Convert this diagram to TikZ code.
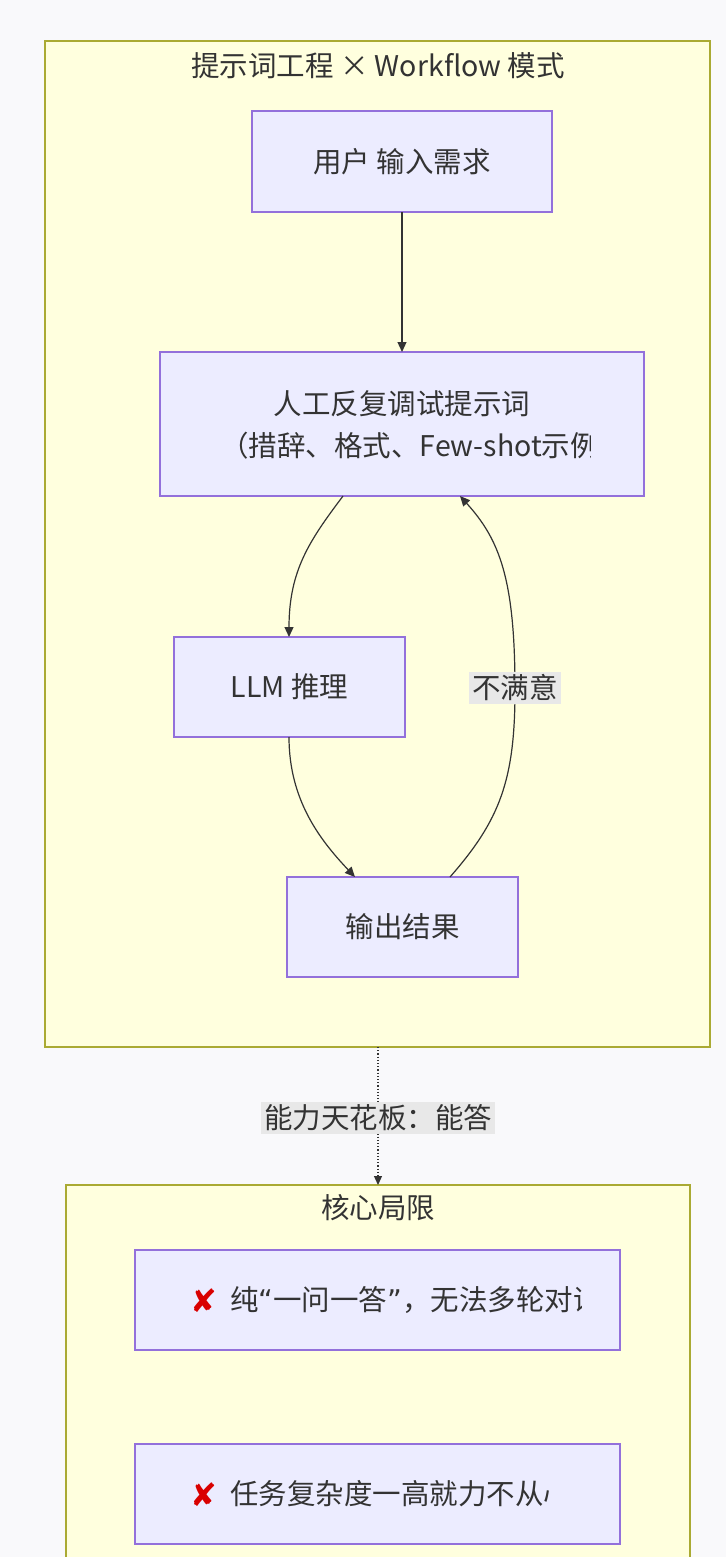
\documentclass[tikz,border=0pt]{standalone}
\usepackage{fontspec}
\setmainfont{Noto Sans CJK SC}
\newfontfamily\symfont{DejaVu Sans}
\usetikzlibrary{arrows.meta}
\definecolor{clfill}{HTML}{FFFFDE}
\definecolor{cldraw}{HTML}{AAAA33}
\definecolor{ndfill}{HTML}{ECECFF}
\definecolor{nddraw}{HTML}{9370DB}
\definecolor{txt}{HTML}{333333}
\definecolor{lblbg}{HTML}{E8E8E8}
\definecolor{pagebg}{HTML}{F9F9FB}
\tikzset{
  cl/.style={draw=cldraw, fill=clfill, line width=1.2pt},
  nd/.style={draw=nddraw, fill=ndfill, line width=1.2pt},
  tx/.style={text=txt, font=\fontsize{28.5}{38}\selectfont, inner sep=0pt},
  lbl/.style={tx, fill=lblbg, inner sep=3pt},
  ed/.style={draw=txt, line width=1.2pt, -{Triangle[length=10pt,width=9pt]}},
  bad/.style={text=red!85!black, font=\symfont\fontsize{32}{32}\selectfont, inner sep=0pt}
}
\newcommand{\oquote}{{\symfont “}}
\newcommand{\cquote}{{\symfont ”}}
\begin{document}
\begin{tikzpicture}[x=1pt,y=-1pt]
  \fill[pagebg] (0,0) rectangle (726,1557);
  \useasboundingbox (0,0) rectangle (726,1557);

  % workflow cluster
  \draw[cl] (45,41) rectangle (710,1047);
  \node[tx] (t1) at (378,66) {提示词工程 × Workflow 模式};
  \coordinate (c1) at (378,1047);

  \draw[nd] (252,111) rectangle (552,212);
  \node[tx] (A) at (402,161.5) {用户 输入需求};
  \coordinate (Ab) at (402,212);

  \draw[nd] (160,352) rectangle (644,496);
  \coordinate (Bt) at (402,352);
  \coordinate (Bl) at (343,496);
  \coordinate (Br) at (460,496);
  \node[tx] (B1) at (402,404) {人工反复调试提示词};
  \begin{scope}
    \clip (170,352) rectangle (590,496);
    \node[tx, anchor=west] (B2) at (220,446) {（措辞、格式、Few-shot示例）};
  \end{scope}

  \draw[nd] (174,637) rectangle (405,737);
  \node[tx] (C) at (289.5,687) {LLM 推理};
  \coordinate (Ct) at (289,637);
  \coordinate (Cb) at (289,737);

  \draw[nd] (287,877) rectangle (518,977);
  \node[tx] (D) at (402.5,927) {输出结果};
  \coordinate (Dl) at (355,877);
  \coordinate (Dr) at (450,877);

  \draw[ed] (Ab) -- (Bt);
  \draw[ed] (Bl) .. controls (310,540) and (289,570) .. (Ct);
  \draw[ed] (Cb) .. controls (289,800) and (320,840) .. (Dl);
  \draw[ed] (Dr) .. controls (500,820) and (515,780) .. (515,690)
    .. controls (515,580) and (500,540) .. (Br);
  \node[lbl] (L1) at (515,688) {不满意};

  % limits cluster
  \draw[cl] (66,1185) rectangle (690,1570);
  \node[tx] (t2) at (378,1208) {核心局限};
  \coordinate (c2) at (378,1185);
  \draw[ed, dotted, -{Triangle[length=9pt,width=8pt]}] (c1) -- (c2);
  \node[lbl] (L2) at (378,1118) {能力天花板：能答};

  \draw[nd] (135,1250) rectangle (620,1350);
  \begin{scope}
    \clip (145,1250) rectangle (581,1350);
    \node[bad, anchor=west] (X1) at (190,1301) {✘};
    \node[tx, anchor=west] (E) at (230,1300) {纯\oquote 一问一答\cquote，无法多轮对话};
  \end{scope}

  \draw[nd] (135,1444) rectangle (620,1544);
  \begin{scope}
    \clip (145,1444) rectangle (550,1544);
    \node[bad, anchor=west] (X2) at (190,1495) {✘};
    \node[tx, anchor=west] (F) at (230,1494) {任务复杂度一高就力不从心};
  \end{scope}
\end{tikzpicture}
\end{document}
